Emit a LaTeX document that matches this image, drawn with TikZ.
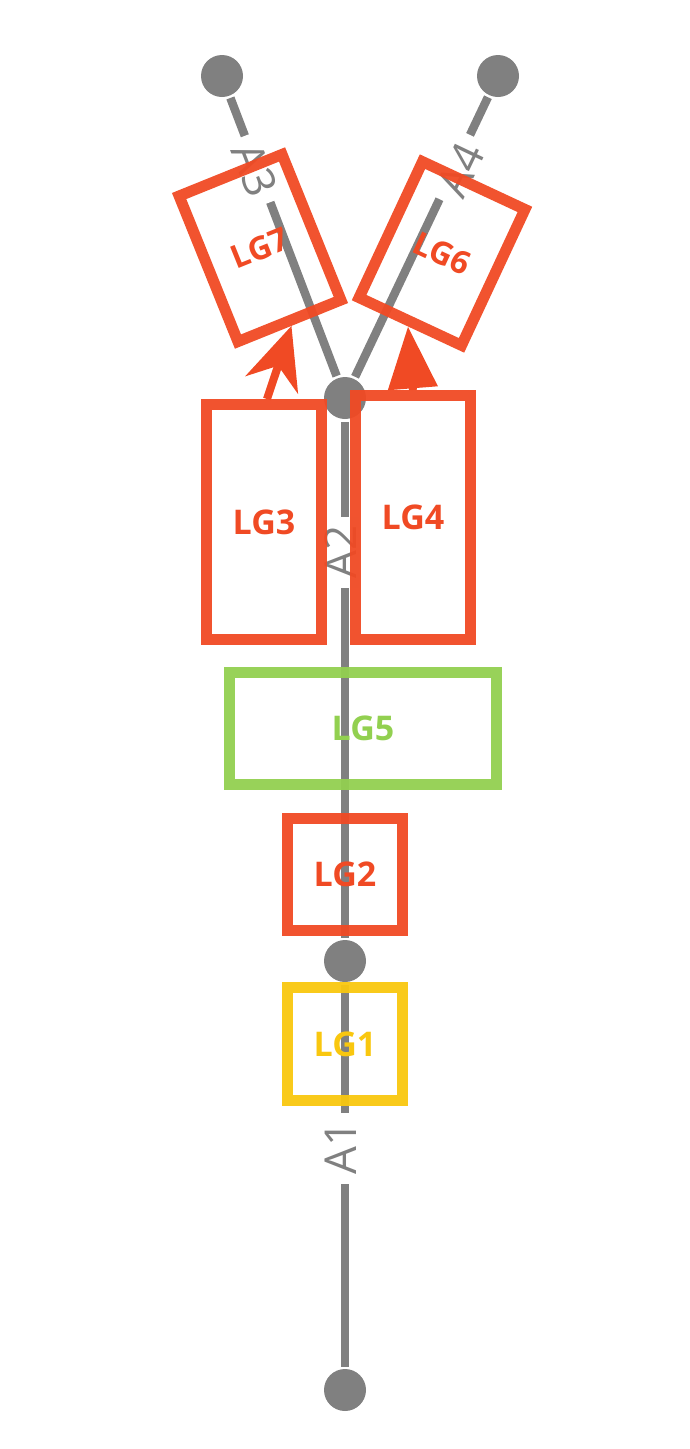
\documentclass[tikz,border=0pt]{standalone}
\usepackage{fontspec}
\setmainfont{Open Sans}
\usetikzlibrary{arrows.meta}
\definecolor{lgred}{RGB}{240,74,36}
\definecolor{lggreen}{RGB}{146,208,80}
\definecolor{lgyellow}{RGB}{249,199,15}
\definecolor{lggray}{RGB}{128,128,128}
\begin{document}
\begin{tikzpicture}[x=1pt,y=-1pt,
  dot/.style={circle,fill=lggray,minimum size=42pt,inner sep=0pt,outer sep=2.5pt},
  track/.style={draw=lggray,line width=8.5pt},
  alabel/.style={fill=white,text=lggray,font=\fontsize{44}{44}\selectfont,inner xsep=9pt,inner ysep=2pt},
  lgbox/.style={draw=#1,line width=11pt,inner sep=0pt,text=#1,
    font=\bfseries\fontsize{34}{34}\selectfont,draw opacity=0.95},
  smalllg/.style={font=\bfseries\fontsize{32}{32}\selectfont},
  lgarrow/.style={draw=lgred,fill=lgred,line width=8pt}]
\useasboundingbox (0,0) rectangle (689,1449);
% junction dots
\node[dot] (c0) at (345,1390) {};
\node[dot] (c1) at (345,961) {};
\node[dot] (c2) at (345,398) {};
\node[dot] (c3) at (222,76) {};
\node[dot] (c4) at (498,76) {};
% tracks
\draw[track] (c0) -- (c1);
\draw[track] (c1) -- (c2);
\draw[track] (c2) -- (c3);
\draw[track] (c2) -- (c4);
% track labels
\node[alabel,rotate=90] (A1) at (341,1148) {A1};
\node[alabel,rotate=90] (A2) at (341,552) {A2};
\node[alabel,rotate=-69] (A3) at (255,170) {A3};
\node[alabel,rotate=64.6] (A4) at (461,170) {A4};
% boxes
\node[lgbox=lgred,minimum width=115pt,minimum height=235pt] (LG3) at (264,522) {LG3};
\node[lgbox=lgred,minimum width=115pt,minimum height=244pt] (LG4) at (413,517.5) {LG4};
\node[lgbox=lggreen,minimum width=267pt,minimum height=112pt] (LG5) at (363,728.5) {LG5};
\node[lgbox=lgred,minimum width=115pt,minimum height=112pt] (LG2) at (345,874.5) {LG2};
\node[lgbox=lgyellow,minimum width=115pt,minimum height=113pt] (LG1) at (345,1044) {LG1};
\node[lgbox=lgred,smalllg,minimum width=111pt,minimum height=157pt,rotate=22] (LG7) at (260,248) {LG7};
\node[lgbox=lgred,smalllg,minimum width=113pt,minimum height=150pt,rotate=-25] (LG6) at (442,253.5) {LG6};
% arrows
\draw[lgarrow,-{Stealth[length=62pt,width=55pt,inset=20pt]}] ([xshift=3pt]LG3.north) -- (LG7.south);
\draw[lgarrow,-{Triangle[length=62pt,width=48pt]}] (LG4.north) -- (LG6.south);
\end{tikzpicture}
\end{document}
